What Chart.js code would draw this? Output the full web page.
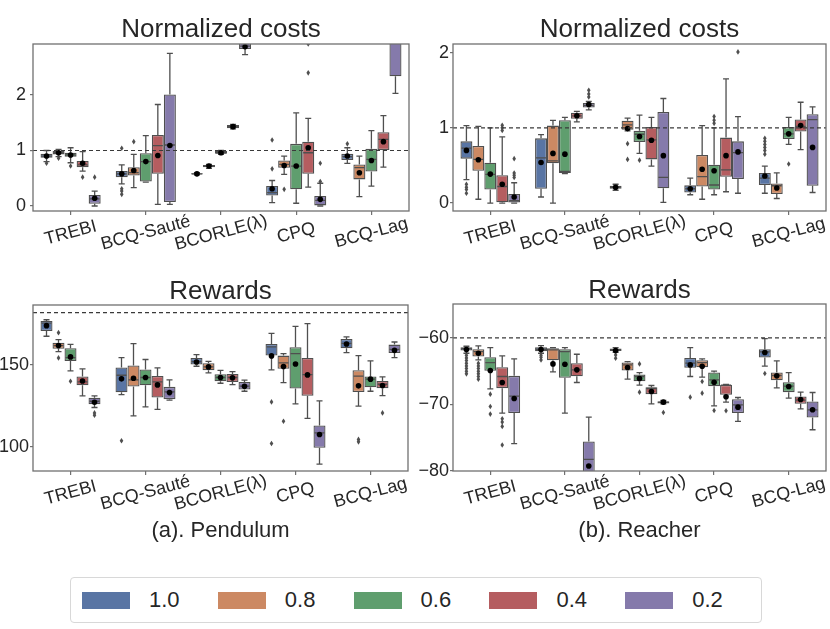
<!DOCTYPE html>
<html>
<head>
<meta charset="utf-8">
<script src="https://cdn.jsdelivr.net/npm/chart.js@4.4.1/dist/chart.umd.min.js"></script>
<style>
  body { margin: 0; background: #fff; }
  #figure { position: relative; width: 830px; height: 629px; overflow: hidden; }
  #figure canvas { position: absolute; }
  #legende {
    position: absolute; left: 70px; top: 577px; width: 692px; height: 46px;
    box-sizing: border-box; border: 1px solid #d8d8d8; border-radius: 4px;
    display: flex; align-items: center; padding-left: 11px;
    font-family: 'Liberation Sans', Arial, sans-serif; font-size: 22px; color: #262626;
  }
  .item { display: flex; align-items: center; width: 143.6px; }
  .patch { display: inline-block; width: 48px; height: 17px; margin-right: 19px; }
</style>
</head>
<body>
<div id="figure">
  <canvas id="pendCouts" width="415" height="270" style="left:0;top:0"></canvas>
  <canvas id="reachCouts" width="415" height="270" style="left:415px;top:0"></canvas>
  <canvas id="pendRecomp" width="415" height="290" style="left:0;top:270px"></canvas>
  <canvas id="reachRecomp" width="415" height="290" style="left:415px;top:270px"></canvas>
  <div id="legende"></div>
</div>
<script>
// Catégories et ratios (une boîte par ratio dans chaque catégorie)
const categories = ['TREBI', 'BCQ-Sauté', 'BCORLE(λ)', 'CPQ', 'BCQ-Lag'];
const ratios = ['1.0', '0.8', '0.6', '0.4', '0.2'];
const couleurs = ['#5975a4', '#cc8963', '#5f9e6e', '#b55d60', '#857aab'];

// Chaque ligne = un ratio ; chaque entrée = [bas, q1, médiane, q3, haut, moyenne] par catégorie
const pendulumCosts = [
  [[0.80, 0.87, 0.90, 0.94, 1.00, 0.90], [0.40, 0.52, 0.58, 0.63, 0.74, 0.58], [0.56, 0.57, 0.58, 0.59, 0.60, 0.58], [0.06, 0.19, 0.24, 0.36, 0.46, 0.31], [0.77, 0.83, 0.89, 0.94, 1.05, 0.90]],
  [[0.89, 0.93, 0.96, 0.99, 1.02, 0.96], [0.33, 0.55, 0.60, 0.70, 0.93, 0.64], [0.68, 0.70, 0.72, 0.74, 0.75, 0.72], [0.57, 0.69, 0.75, 0.82, 0.90, 0.73], [0.17, 0.48, 0.69, 0.75, 0.90, 0.60]],
  [[0.78, 0.89, 0.92, 0.96, 1.05, 0.92], [0.43, 0.44, 0.80, 0.95, 1.27, 0.80], [0.93, 0.94, 0.96, 0.99, 1.00, 0.96], [0.05, 0.30, 0.72, 1.12, 1.68, 0.72], [0.36, 0.62, 0.84, 1.03, 1.36, 0.82]],
  [[0.63, 0.70, 0.74, 0.81, 0.98, 0.77], [0.03, 0.58, 1.09, 1.28, 1.83, 0.91], [1.39, 1.40, 1.43, 1.46, 1.47, 1.43], [0.34, 0.58, 0.96, 1.16, 1.58, 1.05], [0.70, 1.01, 1.20, 1.33, 1.63, 1.16]],
  [[0.00, 0.04, 0.13, 0.20, 0.27, 0.14], [0.03, 0.07, 1.10, 2.01, 2.75, 1.09], [2.73, 2.83, 2.88, 2.98, 3.05, 2.87], [0.00, 0.00, 0.10, 0.18, 0.41, 0.12], [2.03, 2.34, 3.30, 3.80, 5.00, 3.40]]
];
// [ratio, catégorie, valeur]
const pendulumCostOutliers = [
  [0, 0, 0.77], [1, 0, 0.86], [2, 0, 0.72], [3, 0, 0.52], [4, 0, 0.52],
  [0, 1, 1.04], [0, 1, 0.31], [0, 1, 0.27], [0, 1, 0.21], [1, 1, 1.16],
  [0, 3, 0.67], [0, 3, 1.19], [1, 3, 0.30], [3, 3, 2.40], [3, 3, 2.92], [4, 3, 0.44], [4, 3, 0.77],
  [0, 4, 1.12]
];
const pendulumCostTicks = [0, 1, 2];

const reacherCosts = [
  [[0.31, 0.59, 0.73, 0.82, 1.03, 0.70], [0.08, 0.19, 0.60, 0.86, 0.91, 0.54], [0.17, 0.19, 0.21, 0.23, 0.25, 0.21], [0.11, 0.14, 0.19, 0.235, 0.33, 0.19], [0.13, 0.24, 0.33, 0.40, 0.49, 0.36]],
  [[0.05, 0.43, 0.58, 0.76, 1.02, 0.575], [0.00, 0.53, 0.56, 1.03, 1.10, 0.66], [0.96, 0.975, 1.04, 1.095, 1.13, 0.99], [0.05, 0.22, 0.35, 0.64, 1.03, 0.45], [0.06, 0.12, 0.23, 0.26, 0.40, 0.20]],
  [[0.00, 0.18, 0.38, 0.535, 1.00, 0.385], [0.39, 0.40, 0.42, 1.10, 1.14, 0.65], [0.66, 0.81, 0.915, 0.96, 1.17, 0.885], [0.11, 0.18, 0.24, 0.51, 1.00, 0.43], [0.78, 0.85, 0.92, 1.01, 1.14, 0.92]],
  [[0.00, 0.01, 0.22, 0.37, 0.88, 0.25], [1.08, 1.12, 1.16, 1.20, 1.22, 1.16], [0.49, 0.58, 0.84, 1.01, 1.14, 0.835], [0.15, 0.35, 0.44, 0.87, 1.65, 0.63], [0.71, 0.95, 1.02, 1.11, 1.34, 1.03]],
  [[0.00, 0.00, 0.03, 0.12, 0.27, 0.08], [1.24, 1.27, 1.30, 1.33, 1.35, 1.31], [0.01, 0.195, 0.34, 1.21, 1.39, 0.63], [0.13, 0.32, 0.67, 0.82, 1.15, 0.68], [0.14, 0.23, 1.11, 1.18, 1.28, 0.74]]
];
const reacherCostOutliers = [
  [0, 0, 0.25], [0, 0, 0.21], [0, 0, 0.18], [0, 0, 0.13],
  [3, 0, 1.035], [3, 0, 1.00], [3, 0, 0.965],
  [4, 0, 0.59], [4, 0, 0.40], [4, 0, 0.37], [4, 0, 0.34],
  [4, 1, 1.50], [4, 1, 1.45], [4, 1, 1.41],
  [1, 2, 0.79], [1, 2, 0.58], [2, 2, 0.57],
  [2, 3, 1.06], [2, 3, 1.10], [2, 3, 1.15], [4, 3, 2.01],
  [0, 4, 0.86], [0, 4, 0.82], [0, 4, 0.78], [0, 4, 0.74], [0, 4, 0.70], [0, 4, 0.65], [2, 4, 0.52]
];
const reacherCostTicks = [0, 1, 2];

const pendulumRewards = [
  [[167.5, 170.7, 175.5, 176.8, 177.6, 174.0], [131.9, 133.3, 143.7, 148.4, 154.5, 141.5], [149.2, 150.2, 152.0, 154.3, 156.3, 151.8], [147.0, 155.7, 161.0, 162.8, 169.3, 155.5], [157.5, 160.2, 163.2, 165.9, 167.1, 162.8]],
  [[158.1, 159.8, 161.8, 163.6, 165.4, 161.8], [118.9, 136.8, 140.9, 149.6, 163.0, 141.9], [145.1, 146.7, 148.8, 151.0, 152.2, 148.8], [139.2, 147.6, 151.2, 155.7, 156.9, 149.0], [124.8, 133.5, 143.1, 146.7, 155.7, 137.2]],
  [[146.3, 152.4, 154.5, 160.2, 162.6, 154.9], [124.4, 137.6, 142.3, 147.2, 153.3, 142.3], [138.8, 140.0, 142.3, 144.3, 146.7, 142.3], [126.2, 135.6, 156.9, 160.8, 173.6, 150.6], [133.9, 136.4, 141.3, 142.9, 152.5, 141.3]],
  [[131.1, 137.6, 139.6, 142.9, 147.6, 140.2], [122.8, 130.1, 139.6, 143.3, 148.2, 137.8], [138.0, 139.6, 142.3, 144.5, 145.9, 142.1], [117.3, 131.1, 144.1, 154.3, 175.2, 143.9], [131.3, 135.8, 138.2, 140.2, 142.7, 137.4]],
  [[124.0, 126.0, 127.8, 129.9, 131.1, 127.2], [128.5, 129.1, 133.5, 136.6, 140.9, 133.1], [133.9, 135.0, 137.0, 139.6, 140.7, 137.0], [89.4, 99.4, 108.5, 113.0, 128.0, 107.5], [154.5, 157.3, 159.5, 162.4, 164.0, 158.9]]
];
const pendulumRewardOutliers = [
  [1, 0, 169.7], [1, 0, 154.3], [2, 0, 140.0], [4, 0, 120.7], [4, 0, 119.3],
  [0, 1, 103.7],
  [0, 3, 127.4], [0, 3, 102.0], [1, 3, 115.6],
  [1, 4, 104.5], [1, 4, 103.0], [3, 4, 120.7]
];
const pendulumRewardTicks = [100, 150];

const reacherRewards = [
  [[-62.3, -61.9, -61.6, -61.4, -61.25, -61.75], [-62.3, -62.0, -61.7, -61.4, -61.15, -61.75], [-62.15, -61.95, -61.8, -61.6, -61.45, -61.9], [-65.8, -64.5, -63.8, -63.0, -61.45, -64.05], [-64.25, -62.95, -62.1, -61.7, -60.1, -62.2]],
  [[-63.3, -62.8, -62.05, -61.7, -61.2, -62.3], [-65.1, -63.35, -61.8, -61.55, -61.45, -63.9], [-66.2, -64.9, -64.05, -63.7, -63.55, -64.45], [-65.9, -64.4, -63.7, -63.35, -63.15, -64.25], [-67.5, -66.35, -65.65, -65.2, -63.45, -65.7]],
  [[-67.65, -64.95, -63.7, -62.9, -61.45, -64.9], [-71.3, -66.0, -62.05, -61.7, -61.45, -63.95], [-67.1, -66.5, -65.8, -65.5, -65.2, -66.1], [-70.2, -67.25, -66.3, -65.2, -65.0, -66.65], [-69.05, -68.15, -67.25, -66.65, -65.2, -67.3]],
  [[-71.3, -67.55, -65.8, -64.4, -62.7, -66.7], [-66.7, -65.75, -64.8, -63.8, -62.45, -64.8], [-69.9, -68.45, -67.6, -67.4, -67.15, -68.05], [-69.65, -68.55, -67.1, -67.05, -67.0, -68.85], [-70.65, -69.9, -69.35, -68.8, -68.15, -69.25]],
  [[-75.9, -71.3, -68.75, -65.7, -63.15, -69.1], [-84.0, -81.5, -78.25, -75.55, -71.9, -79.25], [-69.9, -69.85, -69.7, -69.5, -69.4, -69.65], [-72.55, -71.3, -70.05, -69.2, -68.95, -70.4], [-73.8, -71.95, -70.8, -69.55, -68.2, -70.8]]
];
const reacherRewardOutliers = [
  [0, 0, -62.6], [0, 0, -63.0], [0, 0, -63.4], [0, 0, -63.8], [0, 0, -64.2], [0, 0, -64.6], [0, 0, -65.0], [0, 0, -65.4],
  [1, 0, -63.8], [1, 0, -64.2], [1, 0, -64.6], [1, 0, -65.0], [1, 0, -65.4], [1, 0, -65.8], [1, 0, -66.2],
  [2, 0, -68.45], [2, 0, -70.3], [2, 0, -71.45],
  [3, 0, -72.15], [3, 0, -72.65], [3, 0, -73.3], [3, 0, -76.1],
  [0, 1, -62.6], [0, 1, -62.9], [0, 1, -63.3],
  [0, 2, -62.55], [0, 2, -63.05], [2, 2, -63.9], [2, 2, -68.15], [4, 2, -71.2],
  [0, 3, -68.9], [1, 3, -66.55], [1, 3, -68.3], [2, 3, -70.9], [3, 3, -70.95],
  [0, 4, -65.35]
];
const reacherRewardTicks = [-80, -70, -60];

const POLICE = "'Liberation Sans', Arial, sans-serif";
const TEXTE = '#262626';
const GRIS = '#4f4f4f';
const CADRE = '#707070';
Chart.defaults.font.family = POLICE;


function pluginBoites(p) {
    /**
     * Dessine moustaches, médianes, valeurs extrêmes, moyennes, ligne de référence,
     * cadre et étiquettes de catégories à partir des échelles du graphique.
     */
    return {
        id: 'boites',
        afterDatasetsDraw(chart) {
            const { ctx, chartArea: a } = chart;
            const y = chart.scales.y;
            ctx.save();
            ctx.beginPath();
            ctx.rect(a.left, a.top, a.right - a.left, a.bottom - a.top);
            ctx.clip();
            ctx.strokeStyle = GRIS;
            ctx.lineWidth = 1.3;
            p.stats.forEach((ligne, h) => {
                const meta = chart.getDatasetMeta(h);
                ligne.forEach((s, c) => {
                    const bar = meta.data[c];
                    const x = bar.x, demi = bar.width / 2;
                    const [bas, q1, med, q3, haut] = s;
                    const yb = y.getPixelForValue(bas), y1 = y.getPixelForValue(q1);
                    const y3 = y.getPixelForValue(q3), yh = y.getPixelForValue(haut);
                    ctx.beginPath();
                    ctx.moveTo(x, y3); ctx.lineTo(x, yh);
                    ctx.moveTo(x, y1); ctx.lineTo(x, yb);
                    ctx.moveTo(x - demi / 2, yh); ctx.lineTo(x + demi / 2, yh);
                    ctx.moveTo(x - demi / 2, yb); ctx.lineTo(x + demi / 2, yb);
                    const ym = y.getPixelForValue(med);
                    ctx.moveTo(x - demi + 1, ym); ctx.lineTo(x + demi - 1, ym);
                    ctx.stroke();
                });
            });
            // valeurs extrêmes (losanges)
            ctx.fillStyle = GRIS;
            p.outliers.forEach(([h, c, v]) => {
                const x = chart.getDatasetMeta(h).data[c].x;
                const yy = y.getPixelForValue(v);
                ctx.beginPath();
                ctx.moveTo(x, yy - 2.8); ctx.lineTo(x + 1.8, yy);
                ctx.lineTo(x, yy + 2.8); ctx.lineTo(x - 1.8, yy);
                ctx.closePath();
                ctx.fill();
            });
            // moyennes
            ctx.fillStyle = '#000';
            p.stats.forEach((ligne, h) => {
                const meta = chart.getDatasetMeta(h);
                ligne.forEach((s, c) => {
                    ctx.beginPath();
                    ctx.arc(meta.data[c].x, y.getPixelForValue(s[5]), 2.8, 0, Math.PI * 2);
                    ctx.fill();
                });
            });
            // ligne de référence
            const yr = y.getPixelForValue(p.reference);
            ctx.strokeStyle = '#3a3a3a';
            ctx.lineWidth = 1.2;
            ctx.setLineDash([4, 3]);
            ctx.beginPath();
            ctx.moveTo(a.left, yr); ctx.lineTo(a.right, yr);
            ctx.stroke();
            ctx.restore();
        },
        afterDraw(chart) {
            const { ctx, chartArea: a } = chart;
            const x = chart.scales.x;
            ctx.save();
            ctx.strokeStyle = CADRE;
            ctx.lineWidth = 1.3;
            ctx.strokeRect(a.left, a.top, a.right - a.left, a.bottom - a.top);
            ctx.fillStyle = TEXTE;
            ctx.font = '18px ' + POLICE;
            ctx.textAlign = 'center';
            ctx.textBaseline = 'middle';
            categories.forEach((nom, i) => {
                ctx.save();
                ctx.translate(x.getPixelForValue(i), a.bottom + 22);
                ctx.rotate(-15 * Math.PI / 180);
                ctx.fillText(nom, 0, 0);
                ctx.restore();
            });
            ctx.restore();
        }
    };
}


function creerPanneau(p) {
    /**
     * Crée un panneau de boîtes à moustaches : les boîtes (q1 → q3) sont des barres flottantes.
     */
    const plugins = {
        legend: { display: false },
        tooltip: { enabled: false },
        title: {
            display: true, text: p.titre, fullSize: false, color: TEXTE,
            font: { size: 26, weight: 'normal', lineHeight: 1 },
            padding: { top: p.titreHaut, bottom: p.titreBas }
        },
        subtitle: {
            display: !!p.sousTitre, text: p.sousTitre || '', position: 'bottom', fullSize: false,
            color: TEXTE, font: { size: 22, weight: 'normal', lineHeight: 1 },
            padding: { top: 10, bottom: 18 }
        }
    };
    new Chart(document.getElementById(p.id), {
        type: 'bar',
        data: {
            labels: categories,
            datasets: ratios.map((r, h) => ({
                label: r,
                data: p.stats[h].map(s => [s[1], s[3]]),
                backgroundColor: couleurs[h],
                borderColor: GRIS,
                borderWidth: 1.3,
                borderSkipped: false,
                categoryPercentage: 0.8,
                barPercentage: 1.0,
                clip: 0
            }))
        },
        options: {
            responsive: false,
            animation: false,
            events: [],
            layout: { padding: { left: 0, right: p.droite, top: 0, bottom: 0 } },
            plugins: plugins,
            scales: {
                x: {
                    grid: { offset: false, drawOnChartArea: false, tickLength: 4, color: CADRE, lineWidth: 1.2 },
                    border: { display: false },
                    ticks: { display: false },
                    afterFit: axe => { axe.height = p.hauteurX; }
                },
                y: {
                    min: p.min, max: p.max,
                    afterBuildTicks: axe => { axe.ticks = p.ticks.map(v => ({ value: v })); },
                    grid: { drawOnChartArea: false, tickLength: 3, color: CADRE, lineWidth: 1.2 },
                    border: { display: false },
                    ticks: {
                        color: TEXTE, font: { size: 18 }, padding: p.ecart,
                        callback: v => String(v).replace('-', '\u2212')
                    },
                    afterFit: axe => { axe.width = p.largeurY; }
                }
            }
        },
        plugins: [pluginBoites(p)]
    });
}


creerPanneau({
    id: 'pendCouts', titre: 'Normalized costs', titreHaut: 17, titreBas: 1,
    stats: pendulumCosts, outliers: pendulumCostOutliers, ticks: pendulumCostTicks,
    min: -0.09, max: 2.92, reference: 1, largeurY: 33, droite: 6, hauteurX: 59, ecart: 4
});
creerPanneau({
    id: 'reachCouts', titre: 'Normalized costs', titreHaut: 17, titreBas: 1,
    stats: reacherCosts, outliers: reacherCostOutliers, ticks: reacherCostTicks,
    min: -0.106, max: 2.115, reference: 1, largeurY: 38, droite: 4, hauteurX: 59, ecart: 1
});
creerPanneau({
    id: 'pendRecomp', titre: 'Rewards', titreHaut: 9, titreBas: 0, sousTitre: '(a). Pendulum',
    stats: pendulumRewards, outliers: pendulumRewardOutliers, ticks: pendulumRewardTicks,
    min: 85.2, max: 186.6, reference: 181.9, largeurY: 33, droite: 7, hauteurX: 39, ecart: 1
});
creerPanneau({
    id: 'reachRecomp', titre: 'Rewards', titreHaut: 8, titreBas: 0, sousTitre: '(b). Reacher',
    stats: reacherRewards, outliers: reacherRewardOutliers, ticks: reacherRewardTicks,
    min: -80, max: -54.9, reference: -60, largeurY: 38, droite: 4, hauteurX: 39, ecart: 1
});

// Légende commune
const legende = document.getElementById('legende');
ratios.forEach((r, i) => {
    const item = document.createElement('div');
    item.className = 'item';
    item.innerHTML = '<span class="patch" style="background:' + couleurs[i] + '"></span><span>' + r + '</span>';
    legende.appendChild(item);
});
</script>
</body>
</html>
